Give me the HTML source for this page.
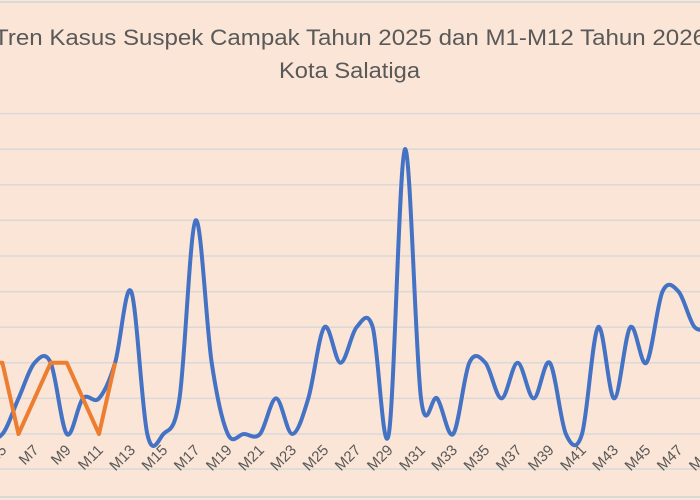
<!DOCTYPE html>
<html><head><meta charset="utf-8"><style>
html,body{margin:0;padding:0;background:#FBE5D6;}
svg{display:block;}
text{font-family:"Liberation Sans",sans-serif;}
</style></head><body>
<svg id="s" width="700" height="500" xmlns="http://www.w3.org/2000/svg">
<rect width="700" height="500" fill="#FBE5D6"/>
<line x1="0" y1="2" x2="700" y2="2" stroke="#D9D9D9" stroke-width="2"/>
<line x1="0" y1="497" x2="700" y2="497" stroke="#D9D9D9" stroke-width="2"/>
<g id="grid" stroke="#D9D9D9" stroke-width="1.5"></g>
<text x="-6" y="45" font-size="22" fill="#595959" textLength="712" lengthAdjust="spacingAndGlyphs">Tren Kasus Suspek Campak Tahun 2025 dan M1-M12 Tahun 2026</text>
<text x="279" y="78" font-size="22" fill="#595959" textLength="141" lengthAdjust="spacingAndGlyphs">Kota Salatiga</text>
<g id="labels" font-size="15" fill="#595959"></g>
<path id="blue" fill="none" stroke="#4472C4" stroke-width="4" stroke-linejoin="round" stroke-linecap="round"/>
<polyline id="orange" fill="none" stroke="#ED7D31" stroke-width="4" stroke-linejoin="round"/>
</svg>
<script>
var NS="http://www.w3.org/2000/svg";
var y0=434,u=35.6,x1=-62,dx=16.1;
function X(m){return x1+(m-1)*dx;}
function Y(v){return y0-v*u;}
var g=document.getElementById('grid');
for(var k=-1;k<=9;k++){var l=document.createElementNS(NS,'line');l.setAttribute('x1',0);l.setAttribute('x2',700);var yy=(k==-1?469:Y(k));l.setAttribute('y1',yy);l.setAttribute('y2',yy);g.appendChild(l);}
var b={2:1,3:1,4:0,5:0,6:1,7:2,8:2,9:0,10:1,11:1,12:2,13:4,14:0,15:0,16:1,17:6,18:2,19:0,20:0,21:0,22:1,23:0,24:1,25:3,26:2,27:3,28:3,29:0,30:8,31:1,32:1,33:0,34:2,35:2,36:1,37:2,38:1,39:2,40:0,41:0,42:3,43:1,44:3,45:2,46:4,47:4,48:3,49:3};
var p=[];for(var m=2;m<=49;m++)p.push([X(m),Y(b[m])]);
var d="M"+p[0][0]+","+p[0][1];
for(var i=0;i<p.length-1;i++){var a=p[i>0?i-1:0],c=p[i],n=p[i+1],e=p[i+2<p.length?i+2:i+1];
var t=1/6;d+=" C"+(c[0]+(n[0]-a[0])*t)+","+(c[1]+(n[1]-a[1])*t)+" "+(n[0]-(e[0]-c[0])*t)+","+(n[1]-(e[1]-c[1])*t)+" "+n[0]+","+n[1];}
document.getElementById('blue').setAttribute('d',d);
var o={4:2,5:2,6:0,7:1,8:2,9:2,10:1,11:0,12:2};var pts=[];for(var m=4;m<=12;m++)pts.push(X(m)+","+Y(o[m]));
document.getElementById('orange').setAttribute('points',pts.join(" "));
var L=document.getElementById('labels');
for(var m=1;m<=49;m+=2){var t=document.createElementNS(NS,'text');var xx=X(m)+5,yy=451;t.setAttribute('x',xx);t.setAttribute('y',yy);t.setAttribute('text-anchor','end');t.setAttribute('transform','rotate(-45 '+xx+' '+yy+')');t.textContent='M'+m;L.appendChild(t);}
</script>
</body></html>
